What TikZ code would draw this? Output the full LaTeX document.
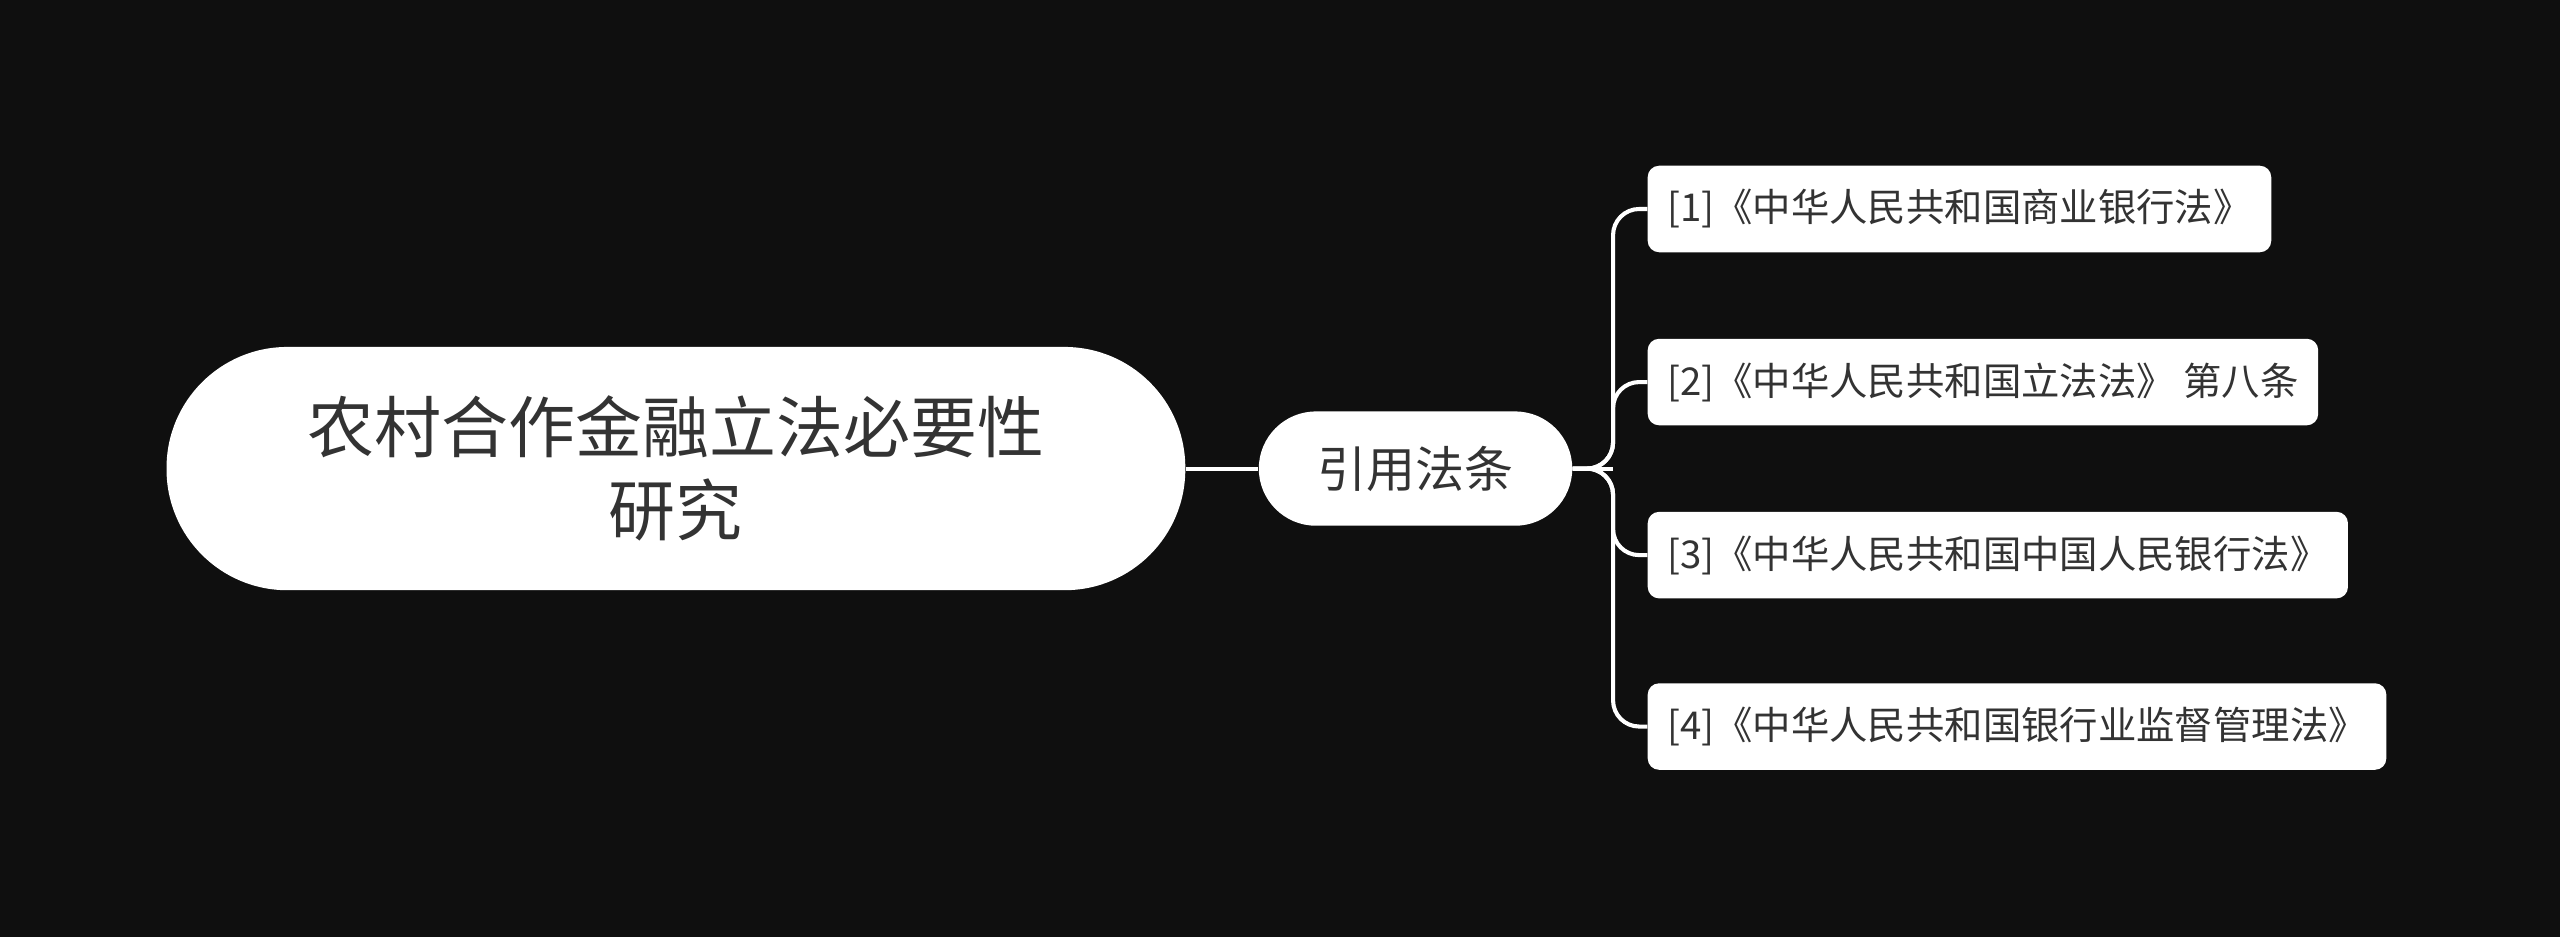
\documentclass[tikz,border=0pt]{standalone}
\usepackage{fontspec}
\setmainfont{Noto Sans CJK SC}
\usetikzlibrary{positioning}
\definecolor{bgcol}{HTML}{0F0F0F}
\definecolor{txtcol}{HTML}{333333}
\tikzset{
  rootbox/.style={fill=white, rounded corners=74pt, minimum width=624pt, minimum height=149pt, align=center, text=txtcol, font=\fontsize{41}{51}\selectfont},
  midbox/.style={fill=white, rounded corners=35pt, minimum width=192pt, minimum height=70pt, text=txtcol, font=\fontsize{30}{34}\selectfont},
  leafbox/.style={fill=white, rounded corners=7pt, minimum height=53pt, anchor=west, inner xsep=12pt, text=txtcol, font=\fontsize{23.5}{28}\selectfont},
  link/.style={draw=white, line width=2.5pt}
}
\begin{document}
\begin{tikzpicture}[x=1pt,y=-1pt]
\fill[bgcol] (0,0) rectangle (1568,574);
\useasboundingbox (0,0) rectangle (1568,574);
\node[rootbox] (root) at (414,287) {农村合作金融立法必要性\\研究};
\node[midbox] (cite) at (867,287) {引用法条};
\node[leafbox] (law1) at (1009,128) {[1]《中华人民共和国商业银行法》};
\node[leafbox] (law2) at (1009,234) {[2]《中华人民共和国立法法》 第八条};
\node[leafbox] (law3) at (1009,340) {[3]《中华人民共和国中国人民银行法》};
\node[leafbox] (law4) at (1009,445) {[4]《中华人民共和国银行业监督管理法》};
\draw[link] (root.east) -- (cite.west);
\coordinate (bus) at (988,287);
\draw[link] (cite.east) -- (bus);
\foreach \n in {law1,law2,law3,law4}
  \draw[link, rounded corners=16pt] (cite.east) -- (bus) |- (\n.west);
\end{tikzpicture}
\end{document}
